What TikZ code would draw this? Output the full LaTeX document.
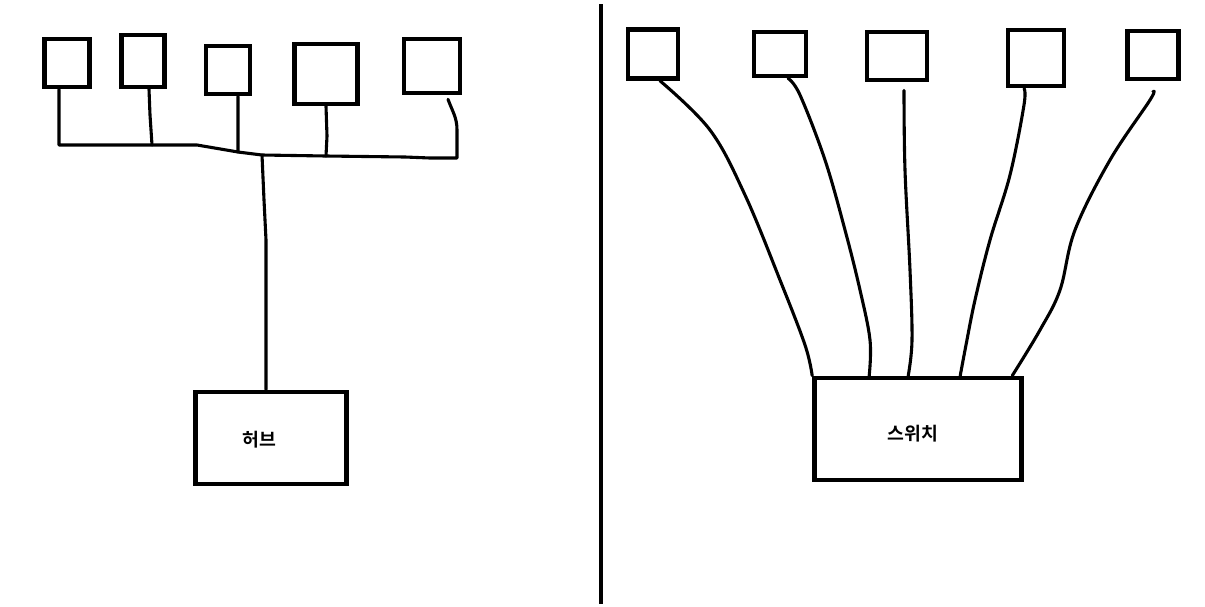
\documentclass[tikz,border=0pt]{standalone}
\usepackage{fontspec}
\newfontfamily\krfont{Noto Sans CJK KR}[BoldFont={Noto Sans CJK KR Bold}]
\usepackage{tikz}
\usetikzlibrary{positioning}

\begin{document}
\begin{tikzpicture}[x=0.025cm, y=-0.025cm,
  pc/.style 2 args={draw, line width=3.3pt, inner sep=0pt,
    minimum width=#1*0.025cm, minimum height=#2*0.025cm},
  wire/.style={line width=2.2pt, line join=round, line cap=round},
  lbl/.style={font=\krfont\bfseries\fontsize{13}{15}\selectfont, inner sep=1pt}]

  \useasboundingbox (0,0) rectangle (1205,606);

  % ── Hub side: terminals ───────────────────────────────────────────────
  \node[pc={45}{48}] (b1) at (67,63) {};
  \node[pc={43}{52}] (b2) at (143,61) {};
  \node[pc={44}{48}] (b3) at (228,70) {};
  \node[pc={63}{60}] (b4) at (326,74) {};
  \node[pc={56}{54}] (b5) at (432,66) {};

  % Hub box
  \node[pc={151}{92}] (hub) at (271,438) {};
  \node[lbl] (hubname) at (259,440) {허브};

  % ── Shared bus ────────────────────────────────────────────────────────
  \coordinate (t2) at (152,145);
  \coordinate (t3) at (238,152);
  \coordinate (th) at (262,155);
  \coordinate (t4) at (326,156);

  \draw[wire] ([xshift=-0.2cm]b1.south) -- (59,145) -- (t2) -- (197,145)
    -- (t3) -- (th) -- (t4) -- (405,157) -- (430,158) -- (457,158)
    -- (457,130) to[out=90,in=-70] ([xshift=0.4cm,yshift=-0.1cm]b5.south);

  % drops from each terminal
  \draw[wire] ([xshift=0.15cm]b2.south) -- (150,115) -- (t2);
  \draw[wire] ([xshift=0.25cm]b3.south) -- (t3);
  \draw[wire] (b4.south) -- (327,136) -- (t4);

  % bus to hub
  \draw[wire] (th) -- (264,200) -- (266,240) -- ([xshift=-0.125cm]hub.north);

  % ── Divider ───────────────────────────────────────────────────────────
  \draw[line width=2.9pt] (601,4) -- (601,604);

  % ── Switch side: terminals ────────────────────────────────────────────
  \node[pc={50}{49}] (r1) at (653,54) {};
  \node[pc={52}{44}] (r2) at (780,54) {};
  \node[pc={60}{48}] (r3) at (897,56) {};
  \node[pc={56}{56}] (r4) at (1036,58) {};
  \node[pc={51}{48}] (r5) at (1153,55) {};

  % Switch box
  \node[pc={207}{102}] (sw) at (918,429) {};
  \node[lbl] (swname) at (913,434) {스위치};

  % ── One wire per port ─────────────────────────────────────────────────
  \draw[wire] plot[smooth, tension=0.6] coordinates {([xshift=0.175cm]r1.south)
    (710,130) (745,195) (780,280) (805,345) (sw.north west)};
  \draw[wire] plot[smooth, tension=0.6] coordinates {([xshift=0.2cm]r2.south)
    (800,95) (825,160) (845,230) (860,290) (870,340) ([xshift=1.425cm]sw.north west)};
  \draw[wire] plot[smooth, tension=0.6] coordinates {([xshift=0.175cm,yshift=-0.2cm]r3.south)
    (905,170) (910,270) (912,340) ([xshift=2.4cm]sw.north west)};
  \draw[wire] plot[smooth, tension=0.6] coordinates {([xshift=-0.3cm]r4.south)
    (1024,105) (1010,175) (990,240) (975,300) (966,345) ([xshift=3.7cm]sw.north west)};
  \draw[wire] plot[smooth, tension=0.6] coordinates {([yshift=-0.25cm]r5.south)
    (1150,100) (1110,160) (1075,230) (1060,290) (1040,330) ([xshift=5cm]sw.north west)};

\end{tikzpicture}
\end{document}
